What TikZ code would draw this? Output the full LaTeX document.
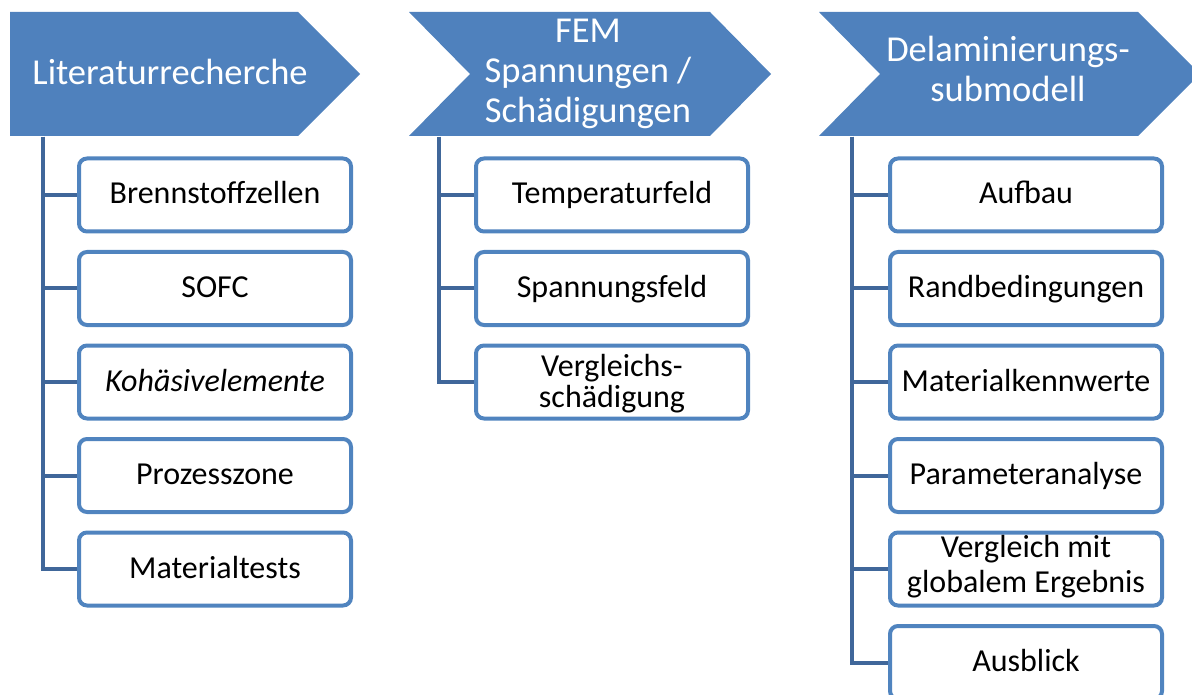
\documentclass[tikz,border=0pt]{standalone}
\usepackage{fontspec}
\setmainfont{Carlito}
\definecolor{hdrblue}{HTML}{4F81BD}
\definecolor{boxblue}{HTML}{5084BF}
\definecolor{connblue}{HTML}{40679A}
\newcommand\hdrstrut{\rule[-12pt]{0pt}{40pt}}
\newcommand\boxstrut{\rule[-10pt]{0pt}{38pt}}
\begin{document}
\begin{tikzpicture}[x=1pt,y=-1pt,
  hdrshape/.style={fill=hdrblue,draw=none},
  hdrtext/.style={text=white,font=\fontsize{36.5}{40}\selectfont,align=center,inner sep=0pt,
    execute at begin node=\hdrstrut,execute at end node=\hdrstrut},
  itembox/.style={draw=boxblue,line width=4pt,fill=white,rounded corners=8pt,
    minimum width=272pt,minimum height=73pt,inner sep=0pt,align=center,
    font=\fontsize{32}{35}\selectfont,text=black,
    execute at begin node=\boxstrut,execute at end node=\boxstrut},
  itemtext/.style={inner sep=0pt,align=center,text=black,
    execute at begin node=\boxstrut,execute at end node=\boxstrut},
  conn/.style={draw=connblue,line width=4pt,line join=miter}]
\useasboundingbox (0,0) rectangle (1192,695);
\clip (0,0) rectangle (1192,695);
% headers
\fill[hdrshape] (10,12) -- (298,12) -- (360,74) -- (298,136) -- (10,136) -- cycle;
\fill[hdrshape] (409,12) -- (710,12) -- (771,74) -- (710,136) -- (409,136) -- (470,74) -- cycle;
\fill[hdrshape] (819,12) -- (1138,12) -- (1200,74) -- (1138,136) -- (819,136) -- (880,74) -- cycle;
\node[hdrtext] (h1) at (170,77) {Literaturrecherche};
\node[hdrtext] (h2) at (588,77) {FEM\\Spannungen /\\Schädigungen};
\node[hdrtext] (h3) at (1008,75.3) {Delaminierungs-\\submodell};
% column 1
\coordinate (t1) at (43,137);
\node[itembox] (a1) at (215,195) {Brennstoffzellen};
\node[itembox] (a2) at (215,288.5) {SOFC};
\node[itembox] (a3) at (215,382) {\itshape Kohäsivelemente};
\node[itembox] (a4) at (215,475.5) {Prozesszone};
\node[itembox] (a5) at (215,569) {Materialtests};
% column 2
\coordinate (t2) at (439,137);
\node[itembox] (b1) at (612,195) {Temperaturfeld};
\node[itembox] (b2) at (612,288.5) {Spannungsfeld};
\node[itembox] (b3) at (612,382) {};
\node[itemtext,font=\fontsize{32}{31}\selectfont] (b3t) at (612,385.5) {Vergleichs-\\schädigung};
% column 3
\coordinate (t3) at (852,137);
\node[itembox] (c1) at (1026,195) {Aufbau};
\node[itembox] (c2) at (1026,288.5) {Randbedingungen};
\node[itembox] (c3) at (1026,382) {Materialkennwerte};
\node[itembox] (c4) at (1026,475.5) {Parameteranalyse};
\node[itembox] (c5) at (1026,569) {Vergleich mit\\globalem Ergebnis};
\node[itembox] (c6) at (1026,662.5) {Ausblick};
% connectors
\foreach \n in {a1,a2,a3,a4,a5} \draw[conn] (t1) |- (\n.west);
\foreach \n in {b1,b2,b3} \draw[conn] (t2) |- (\n.west);
\foreach \n in {c1,c2,c3,c4,c5,c6} \draw[conn] (t3) |- (\n.west);
\end{tikzpicture}
\end{document}
